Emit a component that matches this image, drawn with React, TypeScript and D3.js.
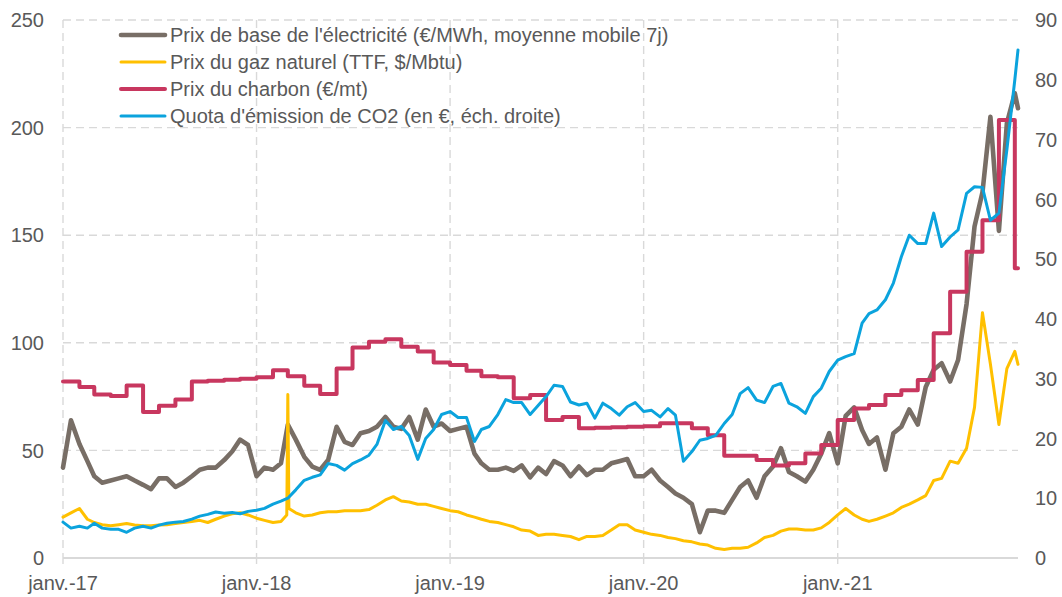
import React from "react";
import * as d3 from "d3";

const W = 1062;
const H = 597;

// Half-monthly observation grid (1st and 16th of each month), Jan 2017 -> Dec 2021, plus last day
const startYear = 2017;
const lastDate = new Date(2021, 11, 7);

// Electricity base price (€/MWh, 7-day moving average) – left axis
const elecValues = [
  42, 64, 53, 45, 38, 35, 36, 37, 38, 36, 34, 32, 37, 37, 33, 35, 38, 41, 42, 42, 45.5, 49.5, 55, 52.5,
  38, 42, 41, 44, 62, 55, 47, 42.5, 41, 45.5, 61, 54, 52.5, 58, 59, 61, 65.5, 61, 60, 65.5, 55, 69, 61, 62.5,
  59, 60, 61, 48.5, 44, 41, 41, 42, 40.5, 43, 37.5, 42, 39, 45, 43, 38, 42.5, 38.5, 41, 41, 44, 45, 46, 38,
  38, 41, 36, 33, 30, 28, 25, 12, 22, 22, 21, 27, 33, 36, 28, 38, 42.5, 51, 40, 38, 35.5, 41, 48.5, 58,
  44, 66, 70, 59.5, 53, 56, 41, 58, 61, 69, 62, 79.5, 87.5, 90.5, 82, 92, 118, 154, 170, 205, 152, 202,
  216, 209,
];

// Natural gas price (TTF, $/Mbtu) – left axis
const gasValues = [
  19, 21, 23, 18, 16.5, 15.5, 15, 15.5, 16, 15.3, 15, 15, 15.3, 15.5, 16, 16.5, 17, 17.5, 16.5, 18, 19.5, 20.5, 21, 20,
  18.5, 17.5, 16.5, 17, 76, 21, 19.5, 20, 21, 21.5, 21.5, 22, 22, 22, 22.5, 24.5, 27, 28.5, 26.5, 26, 25, 25, 24, 23,
  22, 21.5, 20, 19, 18, 17, 16.5, 15.5, 14.5, 13, 12.5, 10.5, 11, 11, 10.5, 10, 8.5, 10, 10, 10.5, 13, 15.5, 15.5, 13,
  12, 11, 10.5, 9.5, 9, 8, 7.5, 6.5, 6, 4.5, 4, 4.5, 4.5, 5, 7, 9.5, 10.5, 12.5, 13.5, 13.5, 13, 13, 14, 16.5,
  20, 23, 20, 18, 17, 18, 19.5, 21, 23.5, 25, 27, 29, 36, 37, 45, 44, 51, 70, 114, 90, 62, 88,
  96, 90,
];
// Short-lived cold-snap spike around 1 March 2018
const gasSpikeDates = ["2018-02-27", "2018-03-03"];
const gasSpikeValues = [20, 23];

// CO2 emission allowance (€, right axis)
const co2Values = [
  6, 5, 5.3, 5, 5.8, 5, 4.8, 4.8, 4.3, 5, 5.3, 5, 5.5, 5.8, 6, 6.1, 6.5, 7, 7.3, 7.7, 7.5, 7.6, 7.4, 7.8,
  8, 8.3, 9, 9.5, 10, 11.4, 13, 13.5, 13.9, 15.8, 15.5, 14.7, 15.8, 16.4, 17.2, 19, 23, 21.5, 22, 20.5, 16.5, 20, 21.5, 24,
  24.5, 23.5, 23.5, 19.5, 21.5, 22, 24, 26.5, 26, 26, 24, 25.5, 27, 28.9, 28.7, 26.1, 25.6, 25.9, 23.4, 25.9, 25, 23.9, 25.3, 26,
  24.5, 24.7, 23.6, 25, 23.9, 16.2, 17.8, 19.7, 20, 20.5, 22.5, 24, 27.5, 28.5, 26.4, 26, 28.7, 29.2, 25.9, 25.3, 24.2, 27, 28.4, 31.2,
  33.1, 33.7, 34.2, 39.3, 40.9, 41.5, 43.2, 46, 50.4, 54, 52.6, 52.6, 57.7, 52.1, 53.7, 54.9, 61, 62.1, 62, 56.5, 57.7, 68.3,
  80, 85,
];

// Coal price (€/mt), monthly steps Jan 2017 -> Dec 2021 – left axis
const coalMonthly = [
  82, 79.5, 76, 75.3, 80.2, 67.8, 70.8, 73.7, 82, 82.4, 82.8, 83.3,
  84, 87.2, 84.5, 80, 76.2, 88, 97.8, 100.5, 101.6, 98.2, 95.9, 90.8,
  89.7, 87, 84.4, 84, 74.2, 75.7, 64.1, 65.5, 60.3, 60.5, 60.7, 61,
  61.2, 62.6, 62.6, 60.3, 57, 47.5, 47.5, 45.5, 43, 44, 48.6, 52.5,
  64.1, 69.5, 71.1, 75.7, 78, 82.7, 104.4, 123.7, 142.3, 157, 203.5, 134.6,
];

const leftTicks = [0, 50, 100, 150, 200, 250];
const rightTicks = [0, 10, 20, 30, 40, 50, 60, 70, 80, 90];
const yearTicks = [2017, 2018, 2019, 2020, 2021];
const yearLabels = ["janv.-17", "janv.-18", "janv.-19", "janv.-20", "janv.-21"];

const seriesNames = [
  "Prix de base de l'électricité (€/MWh, moyenne mobile 7j)",
  "Prix du gaz naturel (TTF, $/Mbtu)",
  "Prix du charbon (€/mt)",
  "Quota d'émission de CO2 (en €, éch. droite)",
];
const seriesColors = ["#786E66", "#FFC000", "#C8375F", "#0BA3DD"];
const seriesWidths = [4.6, 3, 4, 3];

const FONT = "'Liberation Sans', Arial, sans-serif";
const TEXT = "#595959";
const GRID = "#D9D9D9";

type Pt = [Date, number];

export default function App() {
  const left = 63;
  const right = 1018;
  const top = 20;
  const bottom = 558;

  const gridDates: Date[] = d3
    .range(elecValues.length - 1)
    .map((k) => new Date(startYear, Math.floor(k / 2), k % 2 ? 16 : 1))
    .concat([lastDate]);

  const x = d3.scaleTime().domain([new Date(startYear, 0, 1), lastDate]).range([left, right]);
  const yL = d3.scaleLinear().domain([0, 250]).range([bottom, top]);
  const yR = d3.scaleLinear().domain([0, 90]).range([bottom, top]);

  const elecPts: Pt[] = gridDates.map((d, i) => [d, elecValues[i]]);
  const gasPts: Pt[] = gridDates
    .map((d, i) => [d, gasValues[i]] as Pt)
    .concat(gasSpikeDates.map((s, i) => [d3.timeParse("%Y-%m-%d")(s) as Date, gasSpikeValues[i]] as Pt))
    .sort((a, b) => +a[0] - +b[0]);
  const co2Pts: Pt[] = gridDates.map((d, i) => [d, co2Values[i]]);
  const coalPts: Pt[] = coalMonthly
    .map((v, m) => [new Date(startYear, m, 1), v] as Pt)
    .concat([[lastDate, coalMonthly[coalMonthly.length - 1]]]);

  const lineL = d3
    .line<Pt>()
    .x((d) => x(d[0]))
    .y((d) => yL(d[1]));
  const lineR = d3
    .line<Pt>()
    .x((d) => x(d[0]))
    .y((d) => yR(d[1]));
  const stepL = d3
    .line<Pt>()
    .x((d) => x(d[0]))
    .y((d) => yL(d[1]))
    .curve(d3.curveStepAfter);

  const paths = [lineL(elecPts), lineL(gasPts), stepL(coalPts), lineR(co2Pts)];

  return (
    <svg
      width={W}
      height={H}
      style={{ position: "absolute", left: 0, top: 0, display: "block", background: "#fff" }}
      fontFamily={FONT}
    >
      <rect x={0} y={0} width={W} height={H} fill="#fff" />
      {/* horizontal gridlines */}
      {leftTicks
        .filter((t) => t > 0)
        .map((t) => (
          <line
            key={"h" + t}
            x1={left}
            x2={right}
            y1={yL(t)}
            y2={yL(t)}
            stroke={GRID}
            strokeWidth={1.4}
            strokeDasharray="8,5"
          />
        ))}
      {/* vertical gridlines */}
      {yearTicks.map((yr) => {
        const xx = x(new Date(yr, 0, 1));
        return (
          <line
            key={"v" + yr}
            x1={xx}
            x2={xx}
            y1={top}
            y2={bottom}
            stroke={GRID}
            strokeWidth={1.4}
            strokeDasharray="8,5"
          />
        );
      })}
      {/* x axis */}
      <line x1={left} x2={right} y1={bottom} y2={bottom} stroke={GRID} strokeWidth={1.8} />
      {yearTicks.map((yr) => {
        const xx = x(new Date(yr, 0, 1));
        return <line key={"t" + yr} x1={xx} x2={xx} y1={bottom} y2={bottom + 6} stroke={GRID} strokeWidth={1.4} />;
      })}
      {yearTicks.map((yr, i) => (
        <text key={"xl" + yr} x={x(new Date(yr, 0, 1))} y={590} textAnchor="middle" fontSize={20} fill={TEXT}>
          {yearLabels[i]}
        </text>
      ))}
      {/* left axis labels */}
      {leftTicks.map((t) => (
        <text key={"yl" + t} x={44} y={yL(t)} dy="0.36em" textAnchor="end" fontSize={20} fill={TEXT}>
          {t}
        </text>
      ))}
      {/* right axis labels */}
      {rightTicks.map((t) => (
        <text key={"yr" + t} x={1035} y={yR(t)} dy="0.36em" textAnchor="start" fontSize={20} fill={TEXT}>
          {t}
        </text>
      ))}
      {/* series */}
      {paths.map((p, i) => (
        <path
          key={"s" + i}
          d={p || ""}
          fill="none"
          stroke={seriesColors[i]}
          strokeWidth={seriesWidths[i]}
          strokeLinejoin="round"
          strokeLinecap="round"
        />
      ))}
      {/* legend */}
      {seriesNames.map((name, i) => {
        const yy = 35 + i * 27;
        return (
          <g key={"lg" + i}>
            <line
              x1={121}
              x2={165}
              y1={yy}
              y2={yy}
              stroke={seriesColors[i]}
              strokeWidth={seriesWidths[i]}
              strokeLinecap="round"
            />
            <text x={170} y={yy} dy="0.36em" fontSize={20} fill={TEXT}>
              {name}
            </text>
          </g>
        );
      })}
    </svg>
  );
}
